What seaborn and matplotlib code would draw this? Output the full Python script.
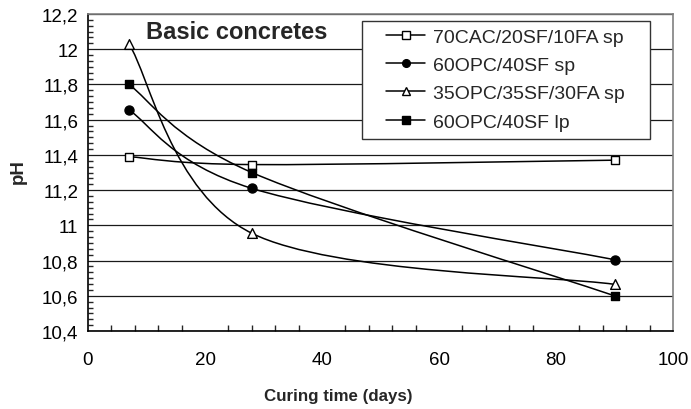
import numpy as np
import pandas as pd
import matplotlib
matplotlib.use("Agg")
import matplotlib.pyplot as plt
import seaborn as sns
from matplotlib.path import Path
from matplotlib.patches import PathPatch, Rectangle
from matplotlib.lines import Line2D
from matplotlib.ticker import AutoMinorLocator, FixedLocator, FuncFormatter

# ---- data ----
days = [7, 28, 90]
series_names = ["70CAC/20SF/10FA sp", "60OPC/40SF sp", "35OPC/35SF/30FA sp", "60OPC/40SF lp"]
ph_70cac = [11.39, 11.345, 11.37]
ph_60opc_sp = [11.655, 11.21, 10.805]
ph_35opc = [12.03, 10.955, 10.665]
ph_60opc_lp = [11.80, 11.30, 10.60]
x_ticks = [0, 20, 40, 60, 80, 100]
y_ticks = [10.4, 10.6, 10.8, 11.0, 11.2, 11.4, 11.6, 11.8, 12.0, 12.2]

values = [ph_70cac, ph_60opc_sp, ph_35opc, ph_60opc_lp]
markers = ["s", "o", "^", "s"]
faces = ["white", "black", "white", "black"]
msizes = [6, 6.5, 7, 6]

df = pd.concat([pd.DataFrame({"days": days, "pH": v, "series": n})
                for n, v in zip(series_names, values)], ignore_index=True)

sns.set_theme(style="white")
plt.rcParams["font.family"] = ["Liberation Sans", "DejaVu Sans"]

fig = plt.figure(figsize=(6.91, 4.10), dpi=100)
ax = fig.add_axes([88/691, 1-332/410, (673-88)/691, (332-15)/410])


def smooth_path(xs, ys):
    # Excel-style smoothed line: Catmull-Rom converted to cubic Bezier
    pts = np.column_stack([xs, ys]).astype(float)
    n = len(pts)
    verts = [pts[0]]
    codes = [Path.MOVETO]
    for i in range(n - 1):
        p0 = pts[i - 1] if i > 0 else pts[i]
        p1 = pts[i]
        p2 = pts[i + 1]
        p3 = pts[i + 2] if i + 2 < n else pts[i + 1]
        c1 = p1 + (p2 - p0) / 6.0
        c2 = p2 - (p3 - p1) / 6.0
        verts += [c1, c2, p2]
        codes += [Path.CURVE4] * 3
    return Path(verts, codes)


for name, mk, fc, ms in zip(series_names, markers, faces, msizes):
    sub = df[df["series"] == name]
    ax.add_patch(PathPatch(smooth_path(sub["days"].values, sub["pH"].values),
                           fill=False, edgecolor="black", lw=1.1, zorder=3))
    sns.scatterplot(data=sub, x="days", y="pH", marker=mk, s=ms**2,
                    color=fc, edgecolor="black", linewidth=1.0, ax=ax,
                    zorder=4, legend=False)

ax.set_xlim(0, 100)
ax.set_ylim(10.4, 12.2)
ax.xaxis.set_major_locator(FixedLocator(x_ticks))
ax.yaxis.set_major_locator(FixedLocator(y_ticks))
ax.xaxis.set_minor_locator(AutoMinorLocator(5))
ax.yaxis.set_minor_locator(AutoMinorLocator(6))
ax.yaxis.set_major_formatter(FuncFormatter(lambda v, p: f"{v:g}".replace(".", ",")))

ax.grid(axis="y", which="major", color="#1a1a1a", lw=0.9, zorder=1)
ax.set_axisbelow(True)

for s in ["left", "bottom"]:
    ax.spines[s].set_color("black")
    ax.spines[s].set_linewidth(1.2)
for s in ["top", "right"]:
    ax.spines[s].set_color("#808080")
    ax.spines[s].set_linewidth(1.2)

ax.tick_params(axis="x", which="major", direction="inout", length=7, width=1,
               labelsize=13.5, pad=11, colors="black")
ax.tick_params(axis="x", which="minor", direction="in", length=4, width=1, bottom=True)
ax.tick_params(axis="y", which="major", direction="out", length=5, width=1,
               labelsize=13.5, pad=2, colors="black")
ax.tick_params(axis="y", which="minor", direction="in", length=3.5, width=1, left=True)

ax.set_xlabel("Curing time (days)", fontsize=12.2, fontweight="bold")
ax.set_ylabel("pH", fontsize=13.5, fontweight="bold")
ax.xaxis.set_label_coords((338-88)/585, -(397-332)/317)
ax.yaxis.set_label_coords((18-88)/585, 1-(172-15)/317)
ax.xaxis.label.set_va("center")
ax.yaxis.label.set_va("center")

ax.text(0.255, 0.945, "Basic concretes", transform=ax.transAxes, ha="center",
        va="center", fontsize=17, fontweight="bold", zorder=6)

# legend box
ax.add_patch(Rectangle((0.468, 0.606), 0.493, 0.372, transform=ax.transAxes,
                       facecolor="white", edgecolor="#333333", lw=1.0, zorder=5))
handles = [Line2D([0], [0], color="black", lw=1.1, marker=mk, markersize=ms * 0.85,
                  markerfacecolor=fc, markeredgecolor="black")
           for mk, fc, ms in zip(markers, faces, msizes)]
leg = ax.legend(handles, series_names, loc="upper left",
                bbox_to_anchor=(0.51, 0.955), frameon=False, fontsize=14,
                borderpad=0, handlelength=2.0, handletextpad=0.4,
                labelspacing=0.545, borderaxespad=0)
leg.set_zorder(6)

fig.savefig("out.png", dpi=100)
